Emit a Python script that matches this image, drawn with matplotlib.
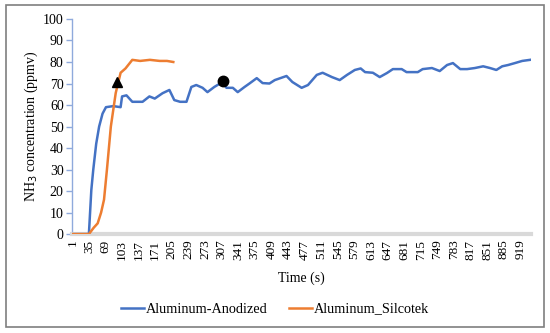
import matplotlib
matplotlib.use("Agg")
import matplotlib.pyplot as plt
from matplotlib.patches import Rectangle

plt.rcParams['font.family'] = ['Liberation Serif', 'DejaVu Serif']

# Data (time index in s, concentration in ppmv)
anod_t = [1, 35, 40, 44, 50, 56, 63, 70, 85, 100, 103, 112, 124, 145, 159, 170, 186, 200, 210, 222, 235,
          245, 255, 268, 278, 292, 309, 317, 330, 340, 354, 364, 379, 391, 405, 416, 440, 452, 471,
          484, 502, 514, 533, 549, 564, 580, 592, 601, 617, 631, 646, 658, 676, 686, 697, 709, 719,
          738, 754, 769, 781, 796, 810, 826, 843, 857, 870, 882, 894, 908, 923, 939]
anod_v = [0, 0, 20.5, 30, 42, 50, 56, 59, 59.5, 59, 64, 64.5, 61.5, 61.5, 64, 63, 65.5, 67, 62.3, 61.5, 61.5,
          68.4, 69.3, 68, 66, 68.4, 70.7, 68, 68, 66, 68.4, 70, 72.5, 70.2, 70, 71.6, 73.5, 70.7, 68,
          69.3, 74, 75, 73, 71.6, 74, 76.3, 77, 75.3, 75, 73, 74.9, 76.7, 76.7, 75.3, 75.3, 75.3, 76.7,
          77.2, 75.8, 78.6, 79.5, 76.7, 76.7, 77.2, 78, 77.2, 76.3, 78, 78.6, 79.5, 80.5, 81]

silc_t = [1, 35, 45, 53, 60, 66, 72, 80, 90, 100, 110, 124, 140, 160, 180, 195, 208]
silc_v = [0, 0, 3, 5, 10, 16, 30, 50, 65.6, 75, 77, 81, 80.5, 81, 80.5, 80.5, 80]

tri_t, tri_v = [93], [70.7]
circ_t, circ_v = [309], [71.2]

tick_labels = list(range(1, 920, 34))

fig = plt.figure(figsize=(5.5, 3.33), dpi=100)
ax = fig.add_axes([0.131, 0.297, 0.834, 0.646])

ax.plot(anod_t, anod_v, color='#4472c4', lw=1.8, label='Aluminum-Anodized', zorder=3)
ax.plot(silc_t, silc_v, color='#ed7d31', lw=1.8, label='Aluminum_Silcotek', zorder=4)
ax.plot(tri_t, tri_v, marker='^', color='black', ms=7.5, ls='none', zorder=5)
ax.plot(circ_t, circ_v, marker='o', color='black', ms=7.5, ls='none', zorder=5)

ax.set_xlim(0.5, 940.5)
ax.set_ylim(0, 100)
ax.set_yticks(range(0, 101, 10))
ax.set_xticks(tick_labels)
ax.set_xticklabels([str(t) for t in tick_labels], rotation=90, fontsize=9.5)
ax.tick_params(axis='y', labelsize=10, color='#8faadc', length=4, width=1, pad=2)
ax.tick_params(axis='x', length=0, pad=4)

for s in ['top', 'right']:
    ax.spines[s].set_visible(False)
ax.spines['left'].set_color('#8faadc')
ax.spines['left'].set_linewidth(1)
ax.spines['bottom'].set_color('#d9d9d9')
ax.spines['bottom'].set_linewidth(3)

ax.set_xlabel('Time (s)', fontsize=10, va='center')
ax.xaxis.set_label_coords(0.5, -0.205)
ax.set_ylabel('NH$_3$ concentration (ppmv)', fontsize=10, va='center')
ax.yaxis.set_label_coords(-0.088, 0.5)

fig.legend(loc='center', bbox_to_anchor=(0.5, 0.072), ncol=2, frameon=False,
           fontsize=10.3, handlelength=1.6, handletextpad=0.15, columnspacing=1.5)

fig.patches.append(Rectangle((0.011, 0.018), 0.978, 0.966, transform=fig.transFigure,
                             fill=False, edgecolor='#7f7f7f', lw=1.2))

fig.savefig('out.png', dpi=100)
